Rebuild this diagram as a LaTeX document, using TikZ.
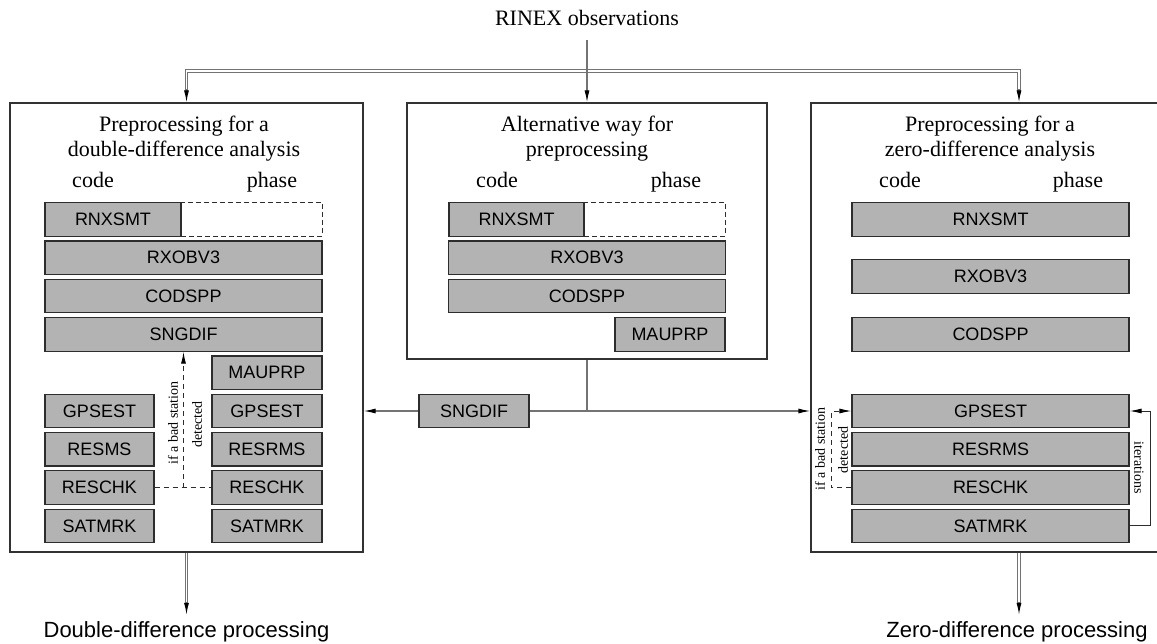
\documentclass[tikz,border=0pt]{standalone}
\usepackage{fontspec}
\setmainfont{Liberation Serif}
\setsansfont{Liberation Sans}
\usetikzlibrary{arrows.meta,calc}

\definecolor{modfill}{RGB}{179,179,179}
\definecolor{modline}{RGB}{45,45,45}
\definecolor{wiregray}{RGB}{115,115,115}
\definecolor{framegray}{RGB}{50,50,50}

\newcommand\headfont{\fontsize{22}{26}\selectfont}
\newcommand\modfont{\sffamily\fontsize{18}{21}\selectfont}
\newcommand\notefont{\fontsize{14}{16}\selectfont}
\newcommand\outfont{\sffamily\fontsize{22}{26}\selectfont}

\begin{document}
\begin{tikzpicture}[x=1pt,y=-1pt,
  mod/.style={draw=modline, fill=modfill, line width=1.2pt, inner sep=0pt,
              minimum height=33.5pt, font=\modfont},
  wide/.style={mod, minimum width=277pt},
  narrow/.style={mod, minimum width=110pt},
  ghost/.style={draw=modline, line width=1pt, dash pattern=on 5pt off 3pt,
                inner sep=0pt, minimum height=33.5pt, minimum width=141pt},
  panel/.style={draw=framegray, line width=1.2pt, inner sep=0pt},
  head/.style={font=\headfont, inner sep=0pt, anchor=base},
  note/.style={font=\notefont, inner sep=0pt},
  outtext/.style={font=\outfont, inner sep=0pt, inner ysep=6pt, anchor=base},
  conn/.style={draw=wiregray, line width=1.2pt},
  dbl/.style={draw=wiregray, line width=0.9pt, double=white, double distance=1.3pt},
  arr/.style={-{Latex[length=12pt,width=5pt,color=black]}},
  fb/.style={draw=modline, line width=1pt, dash pattern=on 5pt off 4pt},
  loopline/.style={draw=modline, line width=1pt}]

\clip (0,0) rectangle (1157,644);

% input
\node[head] (rinex) at (587,26) {RINEX observations};

% the three preprocessing panels
\node[panel, minimum width=353pt, minimum height=449pt] (L) at (186.5,327.5) {};
\node[panel, minimum width=360pt, minimum height=256pt] (M) at (587,231) {};
\node[panel, minimum width=389pt, minimum height=449pt] (R) at (1005.5,327.5) {};

% panel headings
\node[head] (Lh1) at (184,132) {Preprocessing for a};
\node[head] (Lh2) at (184,157) {double-difference analysis};
\node[head] (Lcode) at (93,188) {code};
\node[head] (Lphase) at (272,188) {phase};

\node[head] (Mh1) at (587,132) {Alternative way for};
\node[head] (Mh2) at (587,157) {preprocessing};
\node[head] (Mcode) at (497,188) {code};
\node[head] (Mphase) at (676,188) {phase};

\node[head] (Rh1) at (990,132) {Preprocessing for a};
\node[head] (Rh2) at (990,157) {zero-difference analysis};
\node[head] (Rcode) at (900,188) {code};
\node[head] (Rphase) at (1078,188) {phase};

% double-difference panel
\node[ghost] (Lgh) at (251.5,219.5) {};
\node[mod, minimum width=136pt] (Lsmt) at (113,219.5) {RNXSMT};
\node[wide] (Lobs) at (183.5,257.8) {RXOBV3};
\node[wide] (Lspp) at (183.5,296.1) {CODSPP};
\node[wide] (Lsng) at (183.5,334.4) {SNGDIF};
\node[narrow] (Lmau) at (267,372.7) {MAUPRP};
\node[mod, minimum width=109pt] (Lgc) at (99.5,411) {GPSEST};
\node[mod, minimum width=109pt] (Lrc) at (99.5,449.3) {RESMS};
\node[mod, minimum width=109pt] (Lkc) at (99.5,487.6) {RESCHK};
\node[mod, minimum width=109pt] (Lsc) at (99.5,525.9) {SATMRK};
\node[narrow] (Lgp) at (267,411) {GPSEST};
\node[narrow] (Lrp) at (267,449.3) {RESRMS};
\node[narrow] (Lkp) at (267,487.6) {RESCHK};
\node[narrow] (Lsp) at (267,525.9) {SATMRK};

% alternative panel
\node[ghost] (Mgh) at (654.5,219.5) {};
\node[mod, minimum width=135pt] (Msmt) at (516.5,219.5) {RNXSMT};
\node[wide] (Mobs) at (587,257.8) {RXOBV3};
\node[wide] (Mspp) at (587,296.1) {CODSPP};
\node[narrow] (Mmau) at (670,334.4) {MAUPRP};

% zero-difference panel
\node[wide] (Rsmt) at (990.5,219.5) {RNXSMT};
\node[wide] (Robs) at (990.5,276.5) {RXOBV3};
\node[wide] (Rspp) at (990.5,334.5) {CODSPP};
\node[wide] (Rgps) at (990.5,411) {GPSEST};
\node[wide] (Rrms) at (990.5,449.3) {RESRMS};
\node[wide] (Rchk) at (990.5,487.6) {RESCHK};
\node[wide] (Rsat) at (990.5,525.9) {SATMRK};

% shared single-difference step
\node[narrow] (Xsng) at (474,411) {SNGDIF};

% outputs
\node[outtext] (ddp) at (186.5,637) {Double-difference processing};
\node[outtext] (zdp) at (1017,637) {Zero-difference processing};

% distribution of the observations
\coordinate (hR) at (1019,71);
\draw[dbl, shorten <=11pt, shorten >=11pt] (L.north) |- (hR) -- (hR |- R.north);
\draw[conn, arr] ($(L.north)+(0,-13)$) -- (L.north);
\draw[conn, arr] ($(hR |- R.north)+(0,-13)$) -- (hR |- R.north);
\draw[conn, arr, shorten <=14pt] (rinex.south) -- (M.north);

% outputs of the panels
\draw[dbl, shorten >=11pt] (L.south) -- (ddp.north);
\draw[conn, arr] ($(ddp.north)+(0,-13)$) -- (ddp.north);
\draw[dbl, shorten >=11pt] (hR |- R.south) -- (hR |- zdp.north);
\draw[conn, arr] ($(hR |- zdp.north)+(0,-13)$) -- (hR |- zdp.north);

% alternative panel feeding both analyses
\coordinate (jm) at (M.south |- Xsng);
\draw[conn] (M.south) -- (jm);
\draw[conn, arr] (jm) -- (R.west |- jm);
\draw[conn] (jm) -- (Xsng.east);
\draw[conn, arr] (Xsng.west) -- (L.east |- Xsng);

% bad-station feedback, double differences
\draw[fb] (Lkc.east) -- (Lkp.west);
\draw[fb, arr] (Lsng.south |- Lkc) -- (Lsng.south);
\node[note, rotate=90] (Lbad1) at (173,423) {if a bad station};
\node[note, rotate=90] (Lbad2) at (197,424.5) {detected};

% bad-station feedback and iterations, zero differences
\draw[fb, arr] (Rchk.west) -- ++(-20,0) |- (Rgps.west);
\node[note, rotate=90] (Rbad1) at (820,449) {if a bad station};
\node[note, rotate=90] (Rbad2) at (843,450) {detected};
\draw[loopline, arr] (Rsat.east) -- ++(21,0) |- (Rgps.east);
\node[note, rotate=-90] (Riter) at (1139,468) {iterations};
\end{tikzpicture}
\end{document}
